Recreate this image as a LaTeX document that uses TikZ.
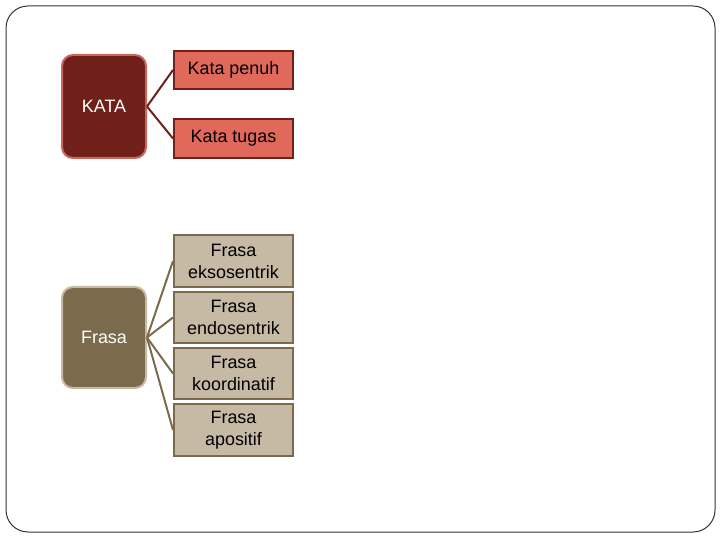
\documentclass[tikz,border=0pt]{standalone}
\usepackage{fontspec}
\setmainfont{Liberation Sans}
\definecolor{kdark}{HTML}{6F2018}
\definecolor{kedge}{HTML}{C9675E}
\definecolor{klight}{HTML}{E0695C}
\definecolor{fdark}{HTML}{7B6A4C}
\definecolor{flight}{HTML}{C7BAA4}
\tikzset{
  parentbox/.style={draw, line width=2bp, rounded corners=11bp, text=white, minimum width=84bp, inner sep=0pt, font=\fontsize{18}{22}\selectfont},
  childbox/.style={draw, line width=2bp, minimum width=119bp, inner sep=0pt, align=center, text=black, font=\fontsize{18}{22}\selectfont},
  link/.style={line width=2bp},
}
\begin{document}
\begin{tikzpicture}[x=1bp,y=-1bp]
\useasboundingbox (0,0) rectangle (720,540);
\draw[line width=1bp, color=black!80, rounded corners=22bp] (6,6) rectangle (715,532);

\node[parentbox, fill=kdark, draw=kedge, minimum height=103bp] (kata) at (104,106.5) {KATA};
\node[childbox, fill=klight, draw=kdark, minimum height=38bp] (penuh) at (233.5,70) {Kata penuh};
\node[childbox, fill=klight, draw=kdark, minimum height=39bp] (tugas) at (233.5,138.5) {Kata tugas};
\draw[link, kdark] (kata.east) -- (penuh.west);
\draw[link, kdark] (kata.east) -- (tugas.west);

\node[parentbox, fill=fdark, draw=flight, minimum height=101bp] (frasa) at (104,337.5) {Frasa};
\node[childbox, fill=flight, draw=fdark, minimum height=52bp] (ekso) at (233.5,261) {Frasa\\eksosentrik};
\node[childbox, fill=flight, draw=fdark, minimum height=51bp] (endo) at (233.5,317.5) {Frasa\\endosentrik};
\node[childbox, fill=flight, draw=fdark, minimum height=51bp] (koor) at (233.5,373.5) {Frasa\\koordinatif};
\node[childbox, fill=flight, draw=fdark, minimum height=52bp] (apos) at (233.5,430) {Frasa\\apositif};
\draw[link, fdark] (frasa.east) -- (ekso.west);
\draw[link, fdark] (frasa.east) -- (endo.west);
\draw[link, fdark] (frasa.east) -- (koor.west);
\draw[link, fdark] (frasa.east) -- (apos.west);
\end{tikzpicture}
\end{document}
